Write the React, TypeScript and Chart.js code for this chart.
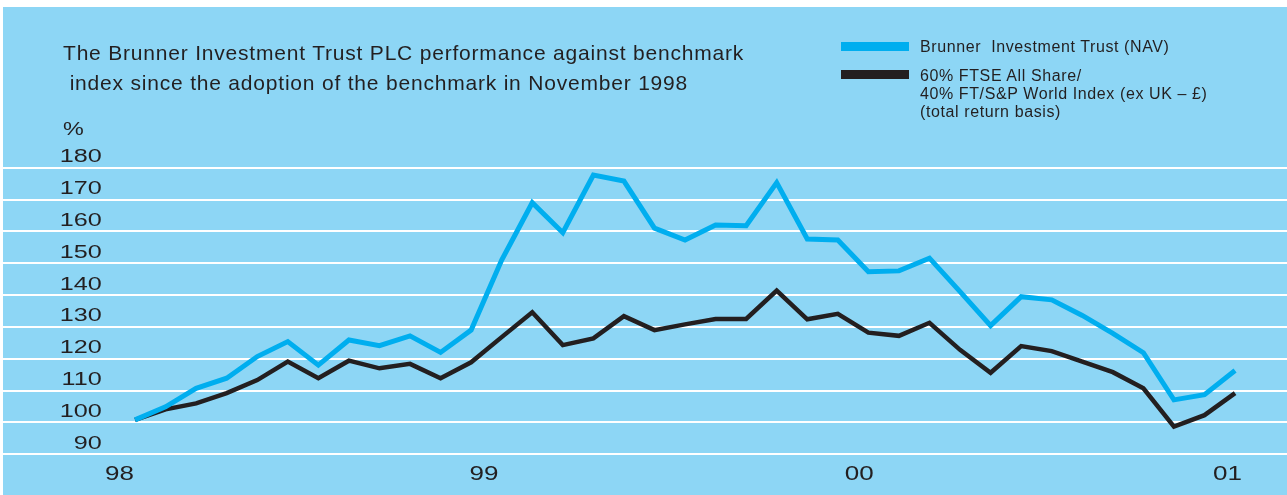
import React, { useEffect, useRef } from "react";
import { Chart, registerables } from "chart.js";

Chart.register(...registerables);

// ---- data ----
const months = [
  "Nov 98", "Dec 98", "Jan 99", "Feb 99", "Mar 99", "Apr 99", "May 99", "Jun 99", "Jul 99", "Aug 99", "Sep 99", "Oct 99",
  "Nov 99", "Dec 99", "Jan 00", "Feb 00", "Mar 00", "Apr 00", "May 00", "Jun 00", "Jul 00", "Aug 00", "Sep 00", "Oct 00",
  "Nov 00", "Dec 00", "Jan 01", "Feb 01", "Mar 01", "Apr 01", "May 01", "Jun 01", "Jul 01", "Aug 01", "Sep 01", "Oct 01",
  "Nov 01",
];

const navValues = [
  100.8, 104.9, 110.7, 113.9, 120.7, 125.4, 118.0, 125.9, 124.1, 127.2, 122.0, 129.0,
  151.0, 169.0, 159.6, 177.7, 175.8, 161.0, 157.3, 162.0, 161.8, 175.3, 157.6, 157.3,
  147.3, 147.6, 151.6, 141.1, 130.4, 139.5, 138.5, 133.6, 128.0, 121.9, 107.1, 108.7,
  116.3,
];

const benchmarkValues = [
  100.8, 104.1, 106.0, 109.2, 113.3, 119.1, 113.9, 119.4, 117.0, 118.4, 113.9, 118.9,
  126.8, 134.6, 124.3, 126.4, 133.4, 129.0, 130.8, 132.5, 132.5, 141.4, 132.4, 134.1,
  128.2, 127.2, 131.3, 122.8, 115.6, 124.0, 122.4, 119.1, 115.8, 110.7, 98.7, 102.3,
  109.2,
];

const seriesNames = [
  "Brunner  Investment Trust (NAV)",
  "60% FTSE All Share/\n40% FT/S&P World Index (ex UK – £)\n(total return basis)",
];

const yTickValues = [90, 100, 110, 120, 130, 140, 150, 160, 170, 180];
const xTickLabels = ["98", "99", "00", "01"];
const xTickPositions = [-0.51, 11.42, 23.7, 35.75];

const titleLines = [
  "The Brunner Investment Trust PLC performance against benchmark",
  " index since the adoption of the benchmark in November 1998",
];
const yUnit = "%";

// ---- styles ----
const BG = "#8DD6F5";
const BLUE = "#00AEEF";
const BLACK = "#231F20";
const TEXT = "#231F20";
const FONT = '"Liberation Sans", Arimo, Arial, sans-serif';

const labelPlugin = {
  id: "stretchedLabels",
  afterDraw(chart: any) {
    const ctx = chart.ctx;
    const ys = chart.scales.y;
    const xs = chart.scales.x;
    ctx.save();
    ctx.fillStyle = TEXT;
    ctx.textBaseline = "middle";

    ctx.font = `18px ${FONT}`;
    ctx.textAlign = "right";
    yTickValues.forEach((v) => {
      const py = ys.getPixelForValue(v) - 10.5;
      ctx.save();
      ctx.translate(98.7, py);
      ctx.scale(1.4, 1);
      ctx.fillText(String(v), 0, 0);
      ctx.restore();
    });

    ctx.textAlign = "left";
    ctx.save();
    ctx.translate(60, 123);
    ctx.scale(1.3, 1);
    ctx.fillText(yUnit, 0, 0);
    ctx.restore();

    ctx.font = `20px ${FONT}`;
    ctx.textAlign = "center";
    xTickLabels.forEach((lab, i) => {
      const px = xs.getPixelForValue(xTickPositions[i]);
      ctx.save();
      ctx.translate(px, 467.5);
      ctx.scale(1.3, 1);
      ctx.fillText(lab, 0, 0);
      ctx.restore();
    });
    ctx.restore();
  },
};

export default function App() {
  const canvasRef = useRef<HTMLCanvasElement | null>(null);

  useEffect(() => {
    const canvas = canvasRef.current;
    if (!canvas) return;
    const chart = new Chart(canvas, {
      type: "line",
      data: {
        datasets: [
          {
            label: seriesNames[0],
            data: navValues.map((v, i) => ({ x: i, y: v })),
            borderColor: BLUE,
            backgroundColor: BLUE,
            borderWidth: 5,
            pointRadius: 0,
            tension: 0,
            borderJoinStyle: "miter",
            fill: false,
          },
          {
            label: seriesNames[1],
            data: benchmarkValues.map((v, i) => ({ x: i, y: v })),
            borderColor: BLACK,
            backgroundColor: BLACK,
            borderWidth: 4.5,
            pointRadius: 0,
            tension: 0,
            borderJoinStyle: "miter",
            fill: false,
          },
        ],
      },
      options: {
        animation: false,
        responsive: false,
        layout: { padding: { top: 160.7, left: 0, right: 0, bottom: 0 } },
        plugins: {
          legend: { display: false },
          title: { display: false },
          tooltip: { enabled: false },
        },
        scales: {
          x: {
            type: "linear",
            min: -4.32,
            max: 37.7,
            grid: { display: false, drawTicks: false },
            border: { display: false },
            ticks: { display: false },
            afterFit: (s: any) => {
              s.height = 40.7;
            },
          },
          y: {
            type: "linear",
            min: 90,
            max: 180,
            ticks: { display: false, stepSize: 10 },
            grid: { color: "#FFFFFF", lineWidth: 2, drawTicks: false },
            border: { display: false },
            afterFit: (s: any) => {
              s.width = 0;
            },
          },
        },
      } as any,
      plugins: [labelPlugin],
    });
    return () => chart.destroy();
  }, []);

  const legendColors = [BLUE, BLACK];
  const legendTops = [30.8, 59.5];
  const swatchTops = [34.7, 63];

  return (
    <div
      style={{
        position: "absolute",
        left: 3,
        top: 7,
        width: 1284,
        height: 488,
        background: BG,
        overflow: "hidden",
      }}
    >
      <canvas ref={canvasRef} width={1284} height={488} style={{ display: "block" }} />
      <div
        style={{
          position: "absolute",
          left: 60,
          top: 31.4,
          fontFamily: FONT,
          fontSize: 21,
          lineHeight: "30px",
          letterSpacing: "0.8px",
          color: TEXT,
          whiteSpace: "pre",
        }}
      >
        {titleLines.map((t, i) => (
          <div key={i}>{t}</div>
        ))}
      </div>
      {seriesNames.map((name, i) => (
        <React.Fragment key={i}>
          <div
            style={{
              position: "absolute",
              left: 838,
              top: swatchTops[i],
              width: 68,
              height: 9,
              background: legendColors[i],
            }}
          />
          <div
            style={{
              position: "absolute",
              left: 917,
              top: legendTops[i],
              fontFamily: FONT,
              fontSize: 16,
              lineHeight: "18px",
              letterSpacing: "0.6px",
              color: TEXT,
              whiteSpace: "pre",
            }}
          >
            {name}
          </div>
        </React.Fragment>
      ))}
    </div>
  );
}
